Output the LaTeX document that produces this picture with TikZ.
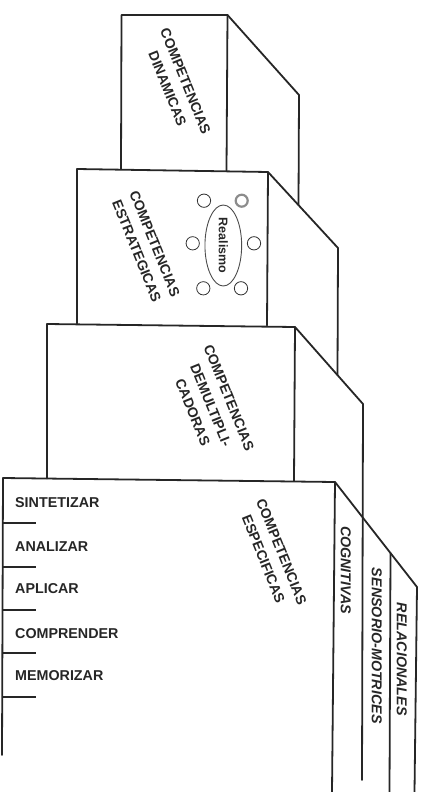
\documentclass[tikz,border=0pt]{standalone}
\usepackage{fontspec}
\setmainfont{Liberation Sans}
\usetikzlibrary{shapes.geometric}
\begin{document}
\begin{tikzpicture}[x=1pt,y=-1pt,
  edge/.style={line width=1.8pt, line join=round, line cap=round, black!85},
  tick/.style={line width=1.8pt, black!85},
  lbl/.style={font=\bfseries\fontsize{14}{19.5}\selectfont, align=center, rotate=-68, inner sep=0pt, text=black!85},
  sidelbl/.style={font=\bfseries\itshape\fontsize{14.3}{17}\selectfont, rotate=-90, inner sep=0pt, text=black!85},
  lvl/.style={font=\bfseries\fontsize{14.3}{17}\selectfont, anchor=west, inner sep=0pt, text=black!85},
  ring/.style={circle, draw=black!80, line width=0.8pt, minimum size=13.3pt, inner sep=0pt},
]
\useasboundingbox (0,0) rectangle (424,792);
% ---- Box 1 (dinamicas)
\coordinate (a1) at (121.5,15);
\coordinate (b1) at (227.5,15);
\coordinate (c1) at (121,169);
\coordinate (d1) at (226.5,170.5);
\coordinate (e1) at (299,95);
\coordinate (f1) at (298.5,205);
% ---- Box 2 (estrategicas)
\coordinate (a2) at (77,169);
\coordinate (b2) at (268,172);
\coordinate (c2) at (77,323.5);
\coordinate (d2) at (267,325.5);
\coordinate (e2) at (338,248);
\coordinate (f2) at (337.5,375);
% ---- Box 3 (demultiplicadoras)
\coordinate (a3) at (47,324);
\coordinate (b3) at (295,327);
\coordinate (c3) at (47,478.5);
\coordinate (d3) at (294,481);
\coordinate (e3) at (363,404);
\coordinate (f3) at (362,780);
% ---- Box 4 (especificas)
\coordinate (a4) at (3,478);
\coordinate (b4) at (335,482);
\coordinate (c4) at (2,755);
\coordinate (d4) at (332,792);
\coordinate (e4) at (417,587);
\coordinate (f4) at (414.5,792);
\coordinate (g4) at (390.5,553);
\coordinate (h4) at (389.5,792);

% box edges
\draw[edge] (c1) -- (a1) -- (b1) -- (d1);
\draw[edge] (b1) -- (e1) -- (f1);
\draw[edge] (c2) -- (a2) -- (b2) -- (d2);
\draw[edge] (b2) -- (e2) -- (f2);
\draw[edge] (c3) -- (a3) -- (b3) -- (d3);
\draw[edge] (b3) -- (e3) -- (f3);
\draw[edge] (c4) -- (a4) -- (b4) -- (d4);
\draw[edge] (b4) -- (e4) -- (f4);
\draw[edge] (g4) -- (h4);

% level ticks
\foreach \yy in {522.7,566.7,610,652.7,697.3}
  \draw[tick] (2.5,\yy) -- (36,\yy);

% level labels
\node[lvl] (sint) at (15,502.3) {SINTETIZAR};
\node[lvl] (anal) at (15,546.7) {ANALIZAR};
\node[lvl] (apli) at (15,589) {APLICAR};
\node[lvl] (comp) at (15,633.3) {COMPRENDER};
\node[lvl] (memo) at (15,675.7) {MEMORIZAR};

% rotated box labels
\node[lbl] (din) at (176.5,85) {COMPETENCIAS\\DINAMICAS};
\node[lbl] (est) at (145.8,247.5) {COMPETENCIAS\\ESTRATEGICAS};
\node[lbl] (dem) at (210.8,405) {COMPETENCIAS\\DEMULTIPLI-\\CADORAS};
\node[lbl] (esp) at (272.5,555.4) {COMPETENCIAS\\ESPECIFICAS};

% side strips
\node[sidelbl] (cog) at (345.8,570) {COGNITIVAS};
\node[sidelbl] (sen) at (376.7,645.8) {SENSORIO-MOTRICES};
\node[sidelbl] (rel) at (401.7,659.2) {RELACIONALES};

% realismo
\node[ellipse, draw=black!70, line width=0.9pt, rotate=-90, minimum width=81pt,
      minimum height=36.7pt, inner sep=0pt, text=black!85,
      font=\bfseries\fontsize{12.5}{14}\selectfont] (real) at (223.3,245.5) {Realismo};
\node[ring] (o1) at (204,200.7) {};
\node[ring, draw=black!45, line width=2.2pt, minimum size=12pt] (o2) at (241.7,200.7) {};
\node[ring] (o3) at (192.7,243.3) {};
\node[ring] (o4) at (254,243.3) {};
\node[ring] (o5) at (203.3,288.3) {};
\node[ring] (o6) at (241,288.3) {};
\end{tikzpicture}
\end{document}
